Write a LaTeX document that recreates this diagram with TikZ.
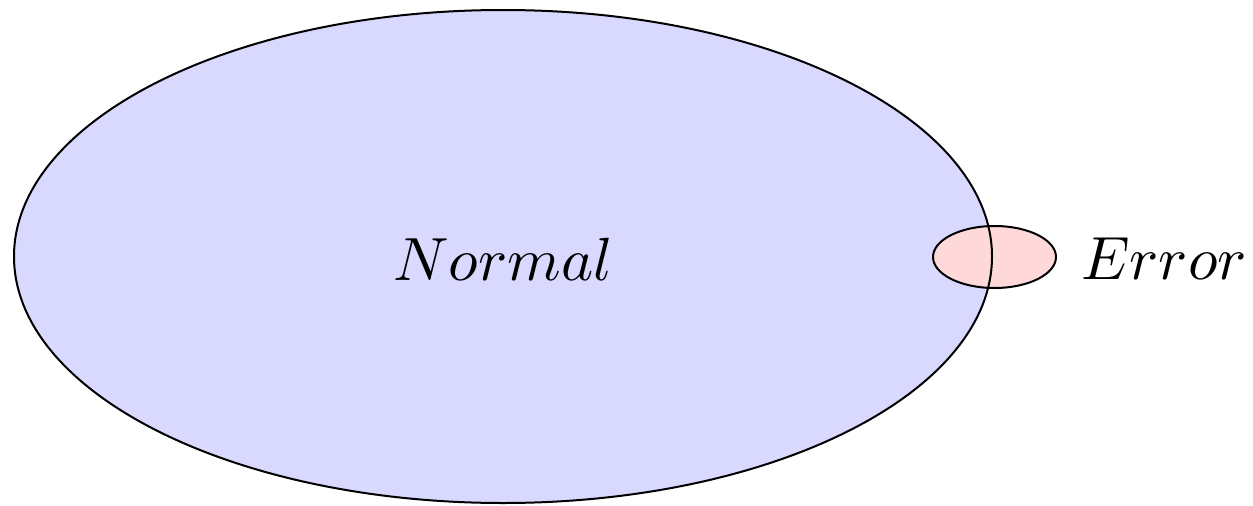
\documentclass[tikz,border=0pt]{standalone}
\begin{document}
\begin{tikzpicture}[x=0.5pt,y=0.5pt,
  region/.style={line width=1pt},
  lbl/.style={scale=3.05,transform shape,inner sep=0pt}]
\useasboundingbox (0,0) rectangle (1253,505);
\fill[blue!15] (503,248.5) ellipse [x radius=489, y radius=246.5];
\fill[red!15] (994.5,248) ellipse [x radius=61.5, y radius=31];
\draw[region] (503,248.5) ellipse [x radius=489, y radius=246.5];
\draw[region] (994.5,248) ellipse [x radius=61.5, y radius=31];
\node[lbl] (normal) at (503,246) {$Normal$};
\node[lbl] (error) at (1164,246) {$Error$};
\end{tikzpicture}
\end{document}
